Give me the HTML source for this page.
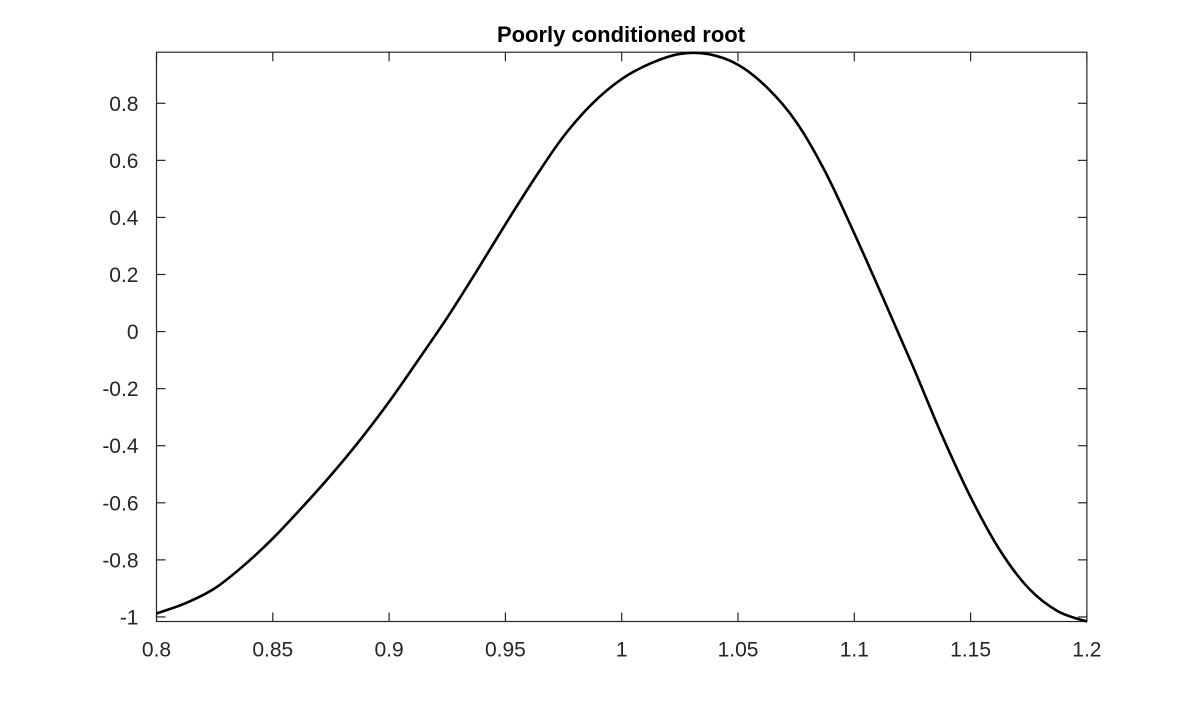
<!DOCTYPE html>
<html><head><meta charset="utf-8"><style>
body{margin:0;background:#fff;}
svg text{font-family:"Liberation Sans",Arial,sans-serif;fill:#262626;}
</style></head><body>
<svg id="chart" width="1200" height="700" xmlns="http://www.w3.org/2000/svg">
<rect width="1200" height="700" fill="#fff"/>
<text x="621" y="42" text-anchor="middle" font-size="22" font-weight="bold" style="fill:#000">Poorly conditioned root</text>
<g id="axes"></g>
<path id="curve" fill="none" stroke="#000" stroke-width="2.6" stroke-linejoin="round"/>
</svg>
<script>
const xData=[0.8,0.8125,0.825,0.8375,0.85,0.8625,0.875,0.8875,0.9,0.9125,0.925,0.9375,0.95,0.9625,0.975,0.9875,1.0,1.0125,1.025,1.0375,1.05,1.0625,1.075,1.0875,1.1,1.1125,1.125,1.1375,1.15,1.1625,1.175,1.1875,1.2];
const yData=[-0.988,-0.952,-0.9,-0.82,-0.725,-0.617,-0.503,-0.38,-0.246,-0.10,0.049,0.21,0.376,0.536,0.684,0.80,0.885,0.94,0.973,0.972,0.935,0.855,0.735,0.56,0.344,0.115,-0.118,-0.36,-0.58,-0.765,-0.90,-0.98,-1.016];
const xTicks=[0.8,0.85,0.9,0.95,1,1.05,1.1,1.15,1.2];
const xTickLabels=["0.8","0.85","0.9","0.95","1","1.05","1.1","1.15","1.2"];
const yTicks=[-1,-0.8,-0.6,-0.4,-0.2,0,0.2,0.4,0.6,0.8];
const yTickLabels=["-1","-0.8","-0.6","-0.4","-0.2","0","0.2","0.4","0.6","0.8"];
const xMin=0.8,xMax=1.2,yMin=-1.016,yMax=0.979;
const L=156.5,R=1086.9,T=52.2,B=621.5;
const sx=v=>L+(v-xMin)/(xMax-xMin)*(R-L);
const sy=v=>B-(v-yMin)/(yMax-yMin)*(B-T);
const NS="http://www.w3.org/2000/svg";
const g=document.getElementById('axes');
function add(tag,attrs,parent){const e=document.createElementNS(NS,tag);for(const k in attrs)e.setAttribute(k,attrs[k]);(parent||g).appendChild(e);return e;}
const box=add('rect',{x:L,y:T,width:R-L,height:B-T,fill:'none',stroke:'#262626','stroke-width':1.2});


xTicks.forEach((v,i)=>{const x=sx(v);
 const t1=add('line',{x1:x,y1:B,x2:x,y2:B-9,stroke:'#262626','stroke-width':1.2});
 
 
 const t2=add('line',{x1:x,y1:T,x2:x,y2:T+9,stroke:'#262626','stroke-width':1.2});
 
 
 const tx=add('text',{x:x,y:B+35,'text-anchor':'middle','font-size':21});
 tx.textContent=xTickLabels[i];
 
 
});
yTicks.forEach((v,i)=>{const y=sy(v);
 const t1=add('line',{x1:L,y1:y,x2:L+9,y2:y,stroke:'#262626','stroke-width':1.2});
 
 
 const t2=add('line',{x1:R,y1:y,x2:R-9,y2:y,stroke:'#262626','stroke-width':1.2});
 
 
 const tx=add('text',{x:L-18,y:y+7.5,'text-anchor':'end','font-size':21});
 tx.textContent=yTickLabels[i];
 
 
});
const P=xData.map((x,i)=>[sx(x),sy(yData[i])]);
let d='M'+P[0][0]+','+P[0][1];
for(let i=0;i<P.length-1;i++){
 const p0=P[Math.max(0,i-1)],p1=P[i],p2=P[i+1],p3=P[Math.min(P.length-1,i+2)];
 const c1=[p1[0]+(p2[0]-p0[0])/6,p1[1]+(p2[1]-p0[1])/6];
 const c2=[p2[0]-(p3[0]-p1[0])/6,p2[1]-(p3[1]-p1[1])/6];
 d+=' C'+c1[0]+','+c1[1]+' '+c2[0]+','+c2[1]+' '+p2[0]+','+p2[1];
}
document.getElementById('curve').setAttribute('d',d);
</script>
</body></html>
